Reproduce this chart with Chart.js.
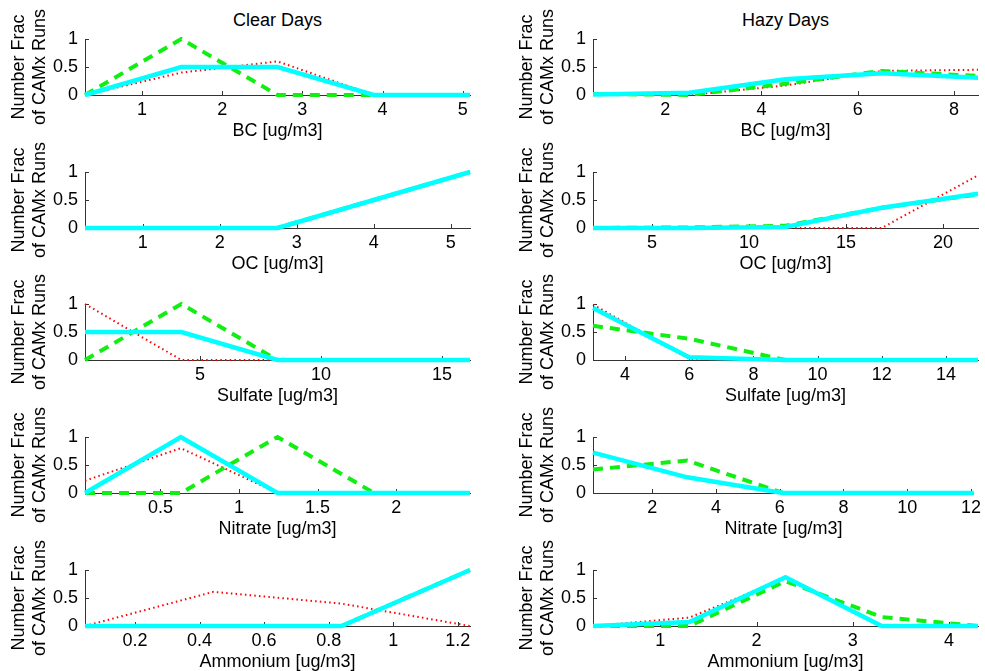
<!DOCTYPE html>
<html>
<head>
<meta charset="utf-8">
<script src="https://cdn.jsdelivr.net/npm/chart.js@4.4.1/dist/chart.umd.min.js"></script>
<style>
  body { margin: 0; background: #fff; }
  #wrap { position: relative; width: 985px; height: 671px; overflow: hidden; }
  #wrap canvas { position: absolute; }
  .ttl {
    position: absolute; text-align: center; font: 18px "Liberation Sans", Arial, sans-serif;
    line-height: 22px; color: #000;
  }
</style>
</head>
<body>
<div id="wrap">
  <div class="ttl" style="left:85px;width:385px;top:9px">Clear Days</div>
  <div class="ttl" style="left:593px;width:385px;top:9px">Hazy Days</div>
</div>
<script>
// dotted = red, dashed = green, solid = cyan
const clearBcX = [0.29, 1.49, 2.69, 3.89, 5.09];
const clearBcDot = [0, 0.4, 0.6, 0, 0];
const clearBcDash = [0, 1, 0, 0, 0];
const clearBcSolid = [0, 0.5, 0.5, 0, 0];
const clearBcTicks = [1, 2, 3, 4, 5];

const hazyBcX = [0.5, 2.5, 4.5, 6.5, 8.5];
const hazyBcDot = [0, 0, 0.17, 0.43, 0.45];
const hazyBcDash = [0.02, 0, 0.2, 0.43, 0.34];
const hazyBcSolid = [0.01, 0.04, 0.28, 0.39, 0.31];
const hazyBcTicks = [2, 4, 6, 8];

const clearOcX = [0.25, 1.5, 2.75, 4.0, 5.25];
const clearOcDot = [0, 0, 0, 0.5, 1];
const clearOcDash = [0, 0, 0, 0.5, 1];
const clearOcSolid = [0, 0, 0, 0.5, 1];
const clearOcTicks = [1, 2, 3, 4, 5];

const hazyOcX = [1.96, 6.92, 11.88, 16.84, 21.8];
const hazyOcDot = [0, 0, 0, 0, 0.94];
const hazyOcDash = [0, 0.01, 0.04, 0.36, 0.6];
const hazyOcSolid = [0, 0, 0.02, 0.36, 0.61];
const hazyOcTicks = [5, 10, 15, 20];

const clearSo4X = [0.25, 4.23, 8.2, 12.18, 16.16];
const clearSo4Dot = [1, 0, 0, 0, 0];
const clearSo4Dash = [0, 1, 0, 0, 0];
const clearSo4Solid = [0.5, 0.5, 0, 0, 0];
const clearSo4Ticks = [5, 10, 15];

const hazySo4X = [3, 6, 9, 12, 15];
const hazySo4Dot = [0.99, 0.02, 0, 0, 0];
const hazySo4Dash = [0.61, 0.38, 0, 0, 0];
const hazySo4Solid = [0.93, 0.05, 0, 0, 0];
const hazySo4Ticks = [4, 6, 8, 10, 12, 14];

const clearNo3X = [0.02, 0.63, 1.245, 1.86, 2.47];
const clearNo3Dot = [0.22, 0.8, 0, 0, 0];
const clearNo3Dash = [0, 0, 1, 0, 0];
const clearNo3Solid = [0, 1, 0, 0, 0];
const clearNo3Ticks = [0.5, 1, 1.5, 2];

const hazyNo3X = [0.14, 3.1, 6.1, 9.1, 12.09];
const hazyNo3Dot = [0.72, 0.28, 0, 0, 0];
const hazyNo3Dash = [0.42, 0.58, 0, 0, 0];
const hazyNo3Solid = [0.72, 0.28, 0, 0, 0];
const hazyNo3Ticks = [2, 4, 6, 8, 10, 12];

const clearNh4X = [0.045, 0.443, 0.84, 1.238];
const clearNh4Dot = [0, 0.61, 0.4, 0];
const clearNh4Dash = [0, 0, 0, 1];
const clearNh4Solid = [0, 0, 0, 1];
const clearNh4Ticks = [0.2, 0.4, 0.6, 0.8, 1, 1.2];

const hazyNh4X = [0.3, 1.3, 2.3, 3.3, 4.3];
const hazyNh4Dot = [0, 0.15, 0.85, 0, 0];
const hazyNh4Dash = [0, 0, 0.8, 0.16, 0];
const hazyNh4Solid = [0, 0.07, 0.87, 0, 0];
const hazyNh4Ticks = [1, 2, 3, 4];

const yTicks = [0, 0.5, 1];
const yTitle = ["Number Frac", "of CAMx Runs"];

const COLS = [{ left: 0, width: 490 }, { left: 508, width: 477 }];
const ROW_TOPS = [39, 172, 304, 437, 570];
const PLOT_H = 56, TOP_PAD = 38, X_AXIS_H = 46, Y_AXIS_W = 85, PLOT_W = 385;

const panels = [
  { col: 0, row: 0, label: "BC [ug/m3]", x: clearBcX, dot: clearBcDot, dash: clearBcDash, solid: clearBcSolid, ticks: clearBcTicks },
  { col: 1, row: 0, label: "BC [ug/m3]", x: hazyBcX, dot: hazyBcDot, dash: hazyBcDash, solid: hazyBcSolid, ticks: hazyBcTicks },
  { col: 0, row: 1, label: "OC [ug/m3]", x: clearOcX, dot: clearOcDot, dash: clearOcDash, solid: clearOcSolid, ticks: clearOcTicks },
  { col: 1, row: 1, label: "OC [ug/m3]", x: hazyOcX, dot: hazyOcDot, dash: hazyOcDash, solid: hazyOcSolid, ticks: hazyOcTicks },
  { col: 0, row: 2, label: "Sulfate [ug/m3]", x: clearSo4X, dot: clearSo4Dot, dash: clearSo4Dash, solid: clearSo4Solid, ticks: clearSo4Ticks },
  { col: 1, row: 2, label: "Sulfate [ug/m3]", x: hazySo4X, dot: hazySo4Dot, dash: hazySo4Dash, solid: hazySo4Solid, ticks: hazySo4Ticks },
  { col: 0, row: 3, label: "Nitrate [ug/m3]", x: clearNo3X, dot: clearNo3Dot, dash: clearNo3Dash, solid: clearNo3Solid, ticks: clearNo3Ticks },
  { col: 1, row: 3, label: "Nitrate [ug/m3]", x: hazyNo3X, dot: hazyNo3Dot, dash: hazyNo3Dash, solid: hazyNo3Solid, ticks: hazyNo3Ticks },
  { col: 0, row: 4, label: "Ammonium [ug/m3]", x: clearNh4X, dot: clearNh4Dot, dash: clearNh4Dash, solid: clearNh4Solid, ticks: clearNh4Ticks },
  { col: 1, row: 4, label: "Ammonium [ug/m3]", x: hazyNh4X, dot: hazyNh4Dot, dash: hazyNh4Dash, solid: hazyNh4Solid, ticks: hazyNh4Ticks },
];

Chart.defaults.font.family = '"Liberation Sans", Arial, sans-serif';
Chart.defaults.font.size = 18;
Chart.defaults.color = "#000";

const AXIS_COLOR = "#333";

// matlab style ticks pointing into the plot
const innerTicks = {
  id: "innerTicks",
  beforeDatasetsDraw(chart) {
    const { ctx, chartArea: a, scales: { x, y } } = chart;
    ctx.save();
    ctx.strokeStyle = AXIS_COLOR;
    ctx.lineWidth = 1;
    ctx.beginPath();
    x.ticks.forEach((t) => {
      const px = Math.round(x.getPixelForValue(t.value)) + 0.5;
      ctx.moveTo(px, a.bottom);
      ctx.lineTo(px, a.bottom - 4);
    });
    y.ticks.forEach((t) => {
      const py = Math.round(y.getPixelForValue(t.value)) + 0.5;
      ctx.moveTo(a.left, py);
      ctx.lineTo(a.left + 4, py);
    });
    ctx.stroke();
    ctx.restore();
  },
};

function fmt(v) {
  return String(+Number(v).toFixed(3));
}

function series(xs, ys) {
  return xs.map((v, i) => ({ x: v, y: ys[i] }));
}

function makePanel(p) {
  const col = COLS[p.col];
  const h = TOP_PAD + PLOT_H + X_AXIS_H;
  const canvas = document.createElement("canvas");
  canvas.width = col.width;
  canvas.height = h;
  canvas.style.left = col.left + "px";
  canvas.style.top = (ROW_TOPS[p.row] - TOP_PAD) + "px";
  canvas.style.width = col.width + "px";
  canvas.style.height = h + "px";
  document.getElementById("wrap").appendChild(canvas);

  const common = { pointRadius: 0, tension: 0, fill: false, clip: false, borderJoinStyle: "miter" };

  new Chart(canvas, {
    type: "line",
    data: {
      datasets: [
        { ...common, data: series(p.x, p.solid), borderColor: "#00ffff", borderWidth: 4.5 },
        { ...common, data: series(p.x, p.dash), borderColor: "#11ee11", borderWidth: 4, borderDash: [10, 7] },
        { ...common, data: series(p.x, p.dot), borderColor: "#ff0000", borderWidth: 2, borderDash: [1.5, 3.2] },
      ],
    },
    options: {
      responsive: false,
      animation: false,
      layout: { padding: { top: TOP_PAD, left: 0, bottom: 0, right: col.width - Y_AXIS_W - PLOT_W } },
      plugins: { legend: { display: false }, tooltip: { enabled: false } },
      scales: {
        x: {
          type: "linear",
          min: p.x[0],
          max: p.x[p.x.length - 1],
          afterBuildTicks: (s) => { s.ticks = p.ticks.map((v) => ({ value: v })); },
          afterFit: (s) => { s.height = X_AXIS_H; },
          grid: { display: true, drawOnChartArea: false, drawTicks: false },
          border: { color: AXIS_COLOR },
          ticks: { autoSkip: false, maxRotation: 0, padding: 4, callback: fmt },
          title: { display: true, text: p.label, padding: 0, font: { size: 18, lineHeight: 1.15 } },
        },
        y: {
          min: 0,
          max: 1,
          afterBuildTicks: (s) => { s.ticks = yTicks.map((v) => ({ value: v })); },
          afterFit: (s) => { s.width = Y_AXIS_W; },
          grid: { display: true, drawOnChartArea: false, drawTicks: false },
          border: { color: AXIS_COLOR },
          ticks: { padding: 7, callback: fmt },
          title: { display: true, text: yTitle, padding: 9, font: { size: 18, lineHeight: 1.15 } },
        },
      },
    },
    plugins: [innerTicks],
  });
}

panels.forEach(makePanel);
</script>
</body>
</html>
